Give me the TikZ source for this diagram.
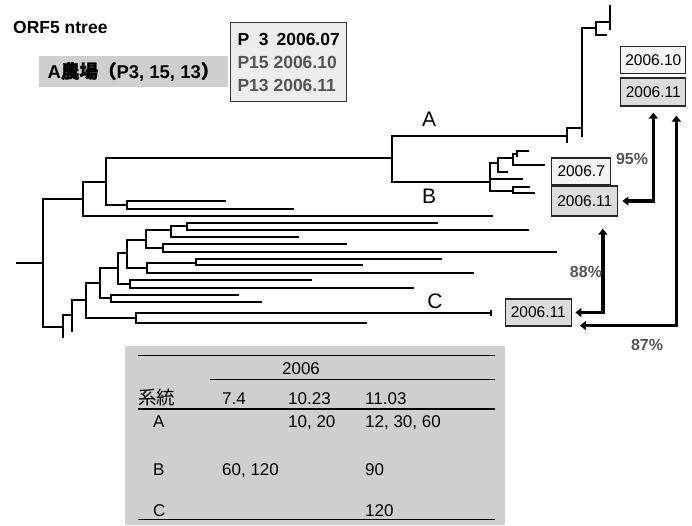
\documentclass[tikz,border=0pt]{standalone}
\usepackage{fontspec}
\setmainfont{Liberation Sans}
\newfontfamily\cjk{Noto Sans CJK JP}
\newfontfamily\cjkbf[FakeBold=1.5]{Noto Sans CJK JP}
\usepackage{xcolor}
\usetikzlibrary{arrows.meta,calc}

\definecolor{boxgray}{HTML}{DCDCDC}
\definecolor{boxlight}{HTML}{F4F4F4}
\definecolor{tablegray}{HTML}{CFCFCF}
\definecolor{pcttext}{HTML}{555555}

\begin{document}
\begin{tikzpicture}[x=1pt, y=-1pt,
    branch/.style={line width=1.2pt, line join=miter},
    clade/.style={font=\fontsize{21}{25}\selectfont},
    datebox/.style={draw=black!85, line width=1.2pt, inner sep=0pt,
        font=\fontsize{15.5}{18}\selectfont},
    link/.style={line width=3.6pt, {Triangle[length=6pt,width=9pt]}-{Triangle[length=6pt,width=9pt]}},
    pct/.style={text=pcttext, font=\bfseries\fontsize{16}{19}\selectfont},
    cell/.style={anchor=base west, inner sep=0pt, font=\fontsize{17}{20}\selectfont}]

    \useasboundingbox (0,0) rectangle (692,525);

    % Title and farm
    \node[anchor=west, inner sep=0pt, font=\bfseries\fontsize{17.5}{20}\selectfont] (title) at (13,27) {ORF5 ntree};
    \node[fill=tablegray, minimum width=189pt, minimum height=31pt, inner sep=0pt,
        font=\bfseries\fontsize{18.5}{21}\selectfont] (farm) at (133.5,71.5) {A{\cjkbf 農場（}P3, 15, 13{\cjkbf ）}};
    \node[draw=black!80, fill=black!7, line width=1pt, minimum width=116pt, minimum height=79pt,
        align=left, inner sep=0pt, font=\bfseries\fontsize{17.5}{23}\selectfont] (plist) at (288.7,62.2)
        {P\hphantom{1}3\hspace{0.45em}2006.07\\ \color{pcttext}P15 2006.10\\ \color{pcttext}P13 2006.11};

    % Tree: root
    \draw[branch] (16,263) -- (43,263);
    \draw[branch] (83,199) -| (43,327) -- (63,327);

    % Tree: upper clade
    \draw[branch] (106,182) -| (83,216) -- (493,216);
    \draw[branch] (392,158) -| (106,205) -- (127,205);
    \draw[branch] (226,201) -| (127,209) -- (294,209);
    \draw[branch] (567,136) -| (392,182) -- (490,182);

    % Tree: lineage A
    \draw[branch] (582,128) -| (567,143);
    \draw[branch] (596,28) -| (582,137);
    \draw[branch] (610,22) -| (596,35) -- (607,35);
    \draw[branch] (610,5) -- (610,30);

    % Tree: lineage B
    \draw[branch] (498,163) -| (490,191) -- (513,191);
    \draw[branch] (490,179) -- (523,179);
    \draw[branch] (513,158) -| (498,172) -- (508,172);
    \draw[branch] (517,154) -| (513,165) -- (545,165);
    \draw[branch] (529,151) -| (517,157);
    \draw[branch] (530,187) -| (513,193) -- (535,193);

    % Tree: lower clade, lineage C
    \draw[branch] (72,315) -| (63,338);
    \draw[branch] (86,300) -| (72,332);
    \draw[branch] (100,283) -| (86,318) -- (136,318);
    \draw[branch] (491,313) -| (136,323) -- (367,323);
    \draw[branch] (491,310) -- (491,316);
    \draw[branch] (118,268) -| (100,298) -- (111,298);
    \draw[branch] (239,295) -| (111,302) -- (262,302);
    \draw[branch] (127,253) -| (118,284) -- (130,284);
    \draw[branch] (312,280) -| (130,288) -- (414,288);
    \draw[branch] (146,240) -| (127,268) -- (147,268);
    \draw[branch] (196,263) -| (147,273) -- (474,273);
    \draw[branch] (442,259) -| (196,265) -- (363,265);
    \draw[branch] (171,230) -| (146,248) -- (163,248);
    \draw[branch] (347,244) -| (163,252) -- (557,252);
    \draw[branch] (187,226) -| (171,237) -- (299,237);
    \draw[branch] (438,223) -| (187,230) -- (529,230);

    % Lineage labels
    \node[clade] (labA) at (429,119) {A};
    \node[clade] (labB) at (429,196) {B};
    \node[clade] (labC) at (435,301) {C};

    % Sampling dates
    \node[datebox, fill=boxlight, minimum width=65pt, minimum height=27pt] (a10) at (653.3,60.3) {2006.10};
    \node[datebox, fill=boxgray, minimum width=65pt, minimum height=28pt] (a11) at (653.3,92) {2006.11};
    \node[datebox, fill=boxlight, minimum width=59pt, minimum height=27pt] (b7) at (581.2,171.5) {2006.7};
    \node[datebox, fill=boxgray, minimum width=66pt, minimum height=30pt] (b11) at (584.8,201) {2006.11};
    \node[datebox, fill=boxgray, minimum width=66pt, minimum height=27pt] (c11) at (538.3,312.5) {2006.11};

    % Identity arrows
    \coordinate (a87) at ($(a11.south east)+(-10,0)$);
    \coordinate (c87) at ($(c11.south east)+(0,-1)$);
    \coordinate (b88) at ($(b11.south)+(18,0)$);
    \draw[link, shorten <=4pt, shorten >=6pt] (b11.east) -| (a11.south);
    \draw[link, shorten <=9pt, shorten >=8pt] (a87) |- (c87);
    \draw[link, shorten <=3.5pt, shorten >=12pt] (c11.east) -| (b88);
    \node[pct] (p95) at (632,159) {95\%};
    \node[pct] (p88) at (586,272) {88\%};
    \node[pct] (p87) at (647,345) {87\%};

    % Table
    \fill[tablegray] (125,346) rectangle (505,525);
    \draw[line width=1pt] (138,355) -- (495,355);
    \draw[line width=1pt] (210,379.3) -- (495,379.3);
    \draw[line width=1.8pt] (138,409.3) -- (495,409.3);
    \draw[line width=1pt] (138,519.3) -- (495,519.3);

    \node[cell, anchor=base] (year) at (301,374.3) {2006};
    \node[cell] (hlin) at (138,404) {\cjk\fontsize{18.5}{20}\selectfont 系統};
    \node[cell] (h74) at (222,404) {7.4};
    \node[cell] (h1023) at (288,404) {10.23};
    \node[cell] (h1103) at (365,404) {11.03};
    \node[cell] (rA) at (153,427.3) {A};
    \node[cell] (rA2) at (288,427.3) {10, 20};
    \node[cell] (rA3) at (365,427.3) {12, 30, 60};
    \node[cell] (rB) at (153,475) {B};
    \node[cell] (rB1) at (222,475) {60, 120};
    \node[cell] (rB3) at (365,475) {90};
    \node[cell] (rC) at (153,516.7) {C};
    \node[cell] (rC3) at (365,516.7) {120};

\end{tikzpicture}
\end{document}
